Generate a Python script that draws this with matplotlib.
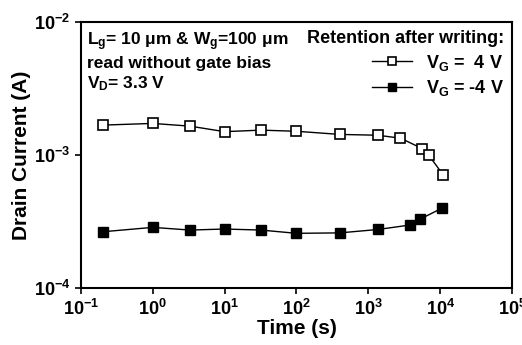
import numpy as np
import matplotlib.pyplot as plt

plt.rcParams['font.family'] = ['Liberation Sans', 'DejaVu Sans']
plt.rcParams['font.weight'] = 'bold'
plt.rcParams['mathtext.default'] = 'regular'

# retention data
t_pos = [0.2, 1, 3.3, 10, 32, 100, 400, 1350, 2800, 5600, 6900, 11000]
i_pos = [1.68e-3, 1.73e-3, 1.65e-3, 1.50e-3, 1.54e-3, 1.51e-3, 1.43e-3, 1.41e-3,
         1.34e-3, 1.12e-3, 1.0e-3, 7.1e-4]

t_neg = [0.2, 1, 3.3, 10, 32, 100, 400, 1380, 3800, 5200, 10500]
i_neg = [2.65e-4, 2.86e-4, 2.73e-4, 2.78e-4, 2.73e-4, 2.58e-4, 2.60e-4, 2.76e-4,
         2.98e-4, 3.29e-4, 3.98e-4]

fig = plt.figure(figsize=(5.22, 3.45), dpi=100)
ax = fig.add_axes([0.155, 0.165, 0.826, 0.771])

ax.plot(t_pos, i_pos, color='black', lw=1, marker='s', ms=7.5,
        mfc='white', mec='black', mew=1.2, label='V$_G$ =  4 V')
ax.plot(t_neg, i_neg, color='black', lw=1, marker='s', ms=7.5,
        mfc='black', mec='black', label='V$_G$ = -4 V')

ax.set_xscale('log')
ax.set_yscale('log')
ax.set_xlim(1e-1, 1e5)
ax.set_ylim(1e-4, 1e-2)
ax.set_xticks([10.0 ** k for k in range(-1, 6)])
ax.set_yticks([1e-4, 1e-3, 1e-2])
ax.minorticks_off()
ax.tick_params(direction='out', length=4, width=1.2, labelsize=13)
for s in ax.spines.values():
    s.set_linewidth(1.5)

ax.set_xlabel('Time (s)', fontsize=15, fontweight='bold', labelpad=0)
ax.set_ylabel('Drain Current (A)', fontsize=15, fontweight='bold', labelpad=2)

ax.text(0.015, 0.97, 'L$_g$= 10 $\\mu$m & W$_g$=100 $\\mu$m\nread without gate bias\nV$_D$= 3.3 V',
        transform=ax.transAxes, fontsize=12.5, fontweight='bold', va='top', ha='left',
        linespacing=1.25)

leg = ax.legend(loc='upper right', title='Retention after writing:', frameon=False,
                title_fontsize=13, handlelength=2.2, borderaxespad=0.05,
                labelspacing=0.3, markerscale=0.75, prop={'weight': 'bold', 'size': 13})
leg.get_title().set_fontweight('bold')
leg._legend_box.align = 'right'

fig.savefig('out.png', dpi=100)
